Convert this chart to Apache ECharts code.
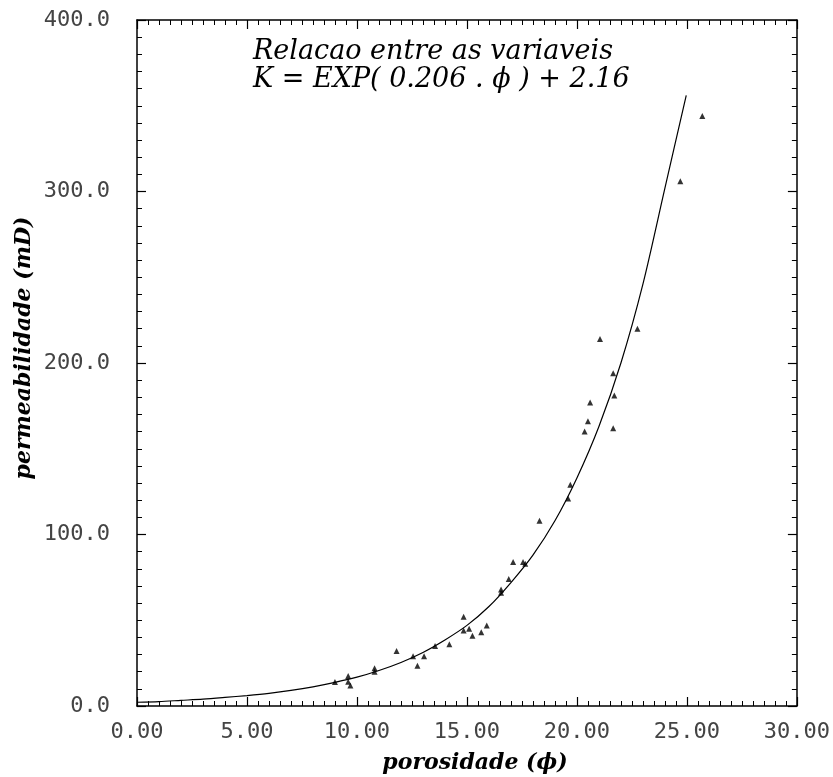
<!DOCTYPE html>
<html>
<head>
<meta charset="utf-8">
<script src="https://cdn.jsdelivr.net/npm/echarts@6/dist/echarts.min.js"></script>
<style>
  html, body { margin: 0; padding: 0; background: #fff; }
  #chart { width: 833px; height: 777px; }
</style>
</head>
<body>
<div id="chart"></div>
<script>
// Measured samples: porosity (%) and permeability (mD)
const porosity = [9.0, 9.6, 9.6, 9.7, 10.8, 10.8, 11.8, 12.55, 12.75, 13.05, 13.55, 14.2,
  14.85, 14.85, 15.1, 15.25, 15.65, 15.9, 16.55, 16.55, 16.9, 17.1, 17.55, 17.65, 18.3,
  19.6, 19.7, 20.35, 20.5, 20.6, 21.05, 21.65, 21.65, 21.7, 22.75, 24.7, 25.7];
const permeability = [14, 17.5, 14.2, 12, 22, 20, 32, 29, 23.5, 29, 35, 36,
  52, 44, 45, 41, 43, 47, 68, 66, 74, 84, 84, 83, 108,
  121, 129, 160, 166, 177, 214, 162, 194, 181, 220, 306, 344];

// Fitted relation, sampled along porosity
const curvePhi = [0, 1, 2, 3, 4, 5, 6, 7, 8, 9, 10, 11, 12, 13, 14, 15, 16, 17, 18, 19, 20, 21, 22, 23, 24, 24.97];
const curveK = [2.2, 2.6, 3.3, 4.0, 5.0, 6.1, 7.4, 9.1, 11.2, 13.8, 16.8, 20.7, 25.4, 31.2, 38.5, 47, 58, 72, 88, 108, 133, 163, 200, 246, 302, 356];

// Axis ticks
const xTicks = [0, 5, 10, 15, 20, 25, 30];
const yTicks = [0, 100, 200, 300, 400];

const titleText = 'Relacao entre as variaveis';
const formulaText = 'K = EXP( 0.206 . \u03D5 ) + 2.16';
const xName = 'porosidade (\u03D5)';
const yName = 'permeabilidade (mD)';

const chart = echarts.init(document.getElementById('chart'), null, { renderer: 'canvas' });

const lineCol = '#000';
const tickFont = { fontFamily: 'DejaVu Sans Mono', fontSize: 22, color: '#444', fontWeight: 'normal' };

function axisBase(extra) {
  return Object.assign({
    type: 'value',
    axisLine: { show: true, onZero: false, lineStyle: { color: lineCol, width: 1.5 } },
    axisTick: { show: true, inside: true, length: 9, lineStyle: { color: lineCol, width: 1.2 } },
    minorTick: { show: true, splitNumber: 10, length: 5, lineStyle: { color: lineCol, width: 1 } },
    splitLine: { show: false },
    minorSplitLine: { show: false }
  }, extra);
}

const xMin = xTicks[0], xMax = xTicks[xTicks.length - 1], xStep = xTicks[1] - xTicks[0];
const yMin = yTicks[0], yMax = yTicks[yTicks.length - 1], yStep = yTicks[1] - yTicks[0];

chart.setOption({
  animation: false,
  backgroundColor: '#fff',
  grid: { left: 137, right: 28, top: 20, bottom: 71 },
  xAxis: [
    axisBase({
      position: 'bottom', min: xMin, max: xMax, interval: xStep,
      axisLabel: Object.assign({ margin: 15, formatter: v => v.toFixed(2) }, tickFont)
    }),
    axisBase({
      position: 'top', min: xMin, max: xMax, interval: xStep,
      axisLabel: { show: false }
    })
  ],
  yAxis: [
    axisBase({
      position: 'left', min: yMin, max: yMax, interval: yStep,
      axisLabel: Object.assign({ margin: 27, formatter: v => v.toFixed(1) }, tickFont)
    }),
    axisBase({
      position: 'right', min: yMin, max: yMax, interval: yStep,
      axisLabel: { show: false }
    })
  ],
  series: [
    {
      type: 'line',
      xAxisIndex: 0, yAxisIndex: 0,
      data: curvePhi.map((p, i) => [p, curveK[i]]),
      smooth: 0.3,
      showSymbol: false,
      symbol: 'none',
      lineStyle: { color: '#000', width: 1.2 },
      z: 3
    },
    {
      type: 'scatter',
      xAxisIndex: 0, yAxisIndex: 0,
      data: porosity.map((p, i) => [p, permeability[i]]),
      symbol: 'triangle',
      symbolSize: 6,
      itemStyle: { color: '#000' },
      z: 4
    }
  ],
  graphic: [
    {
      type: 'text', left: 253, top: 38,
      style: { text: titleText, font: 'italic 27px "DejaVu Serif"', fill: '#000' }
    },
    {
      type: 'text', left: 253, top: 66,
      style: { text: formulaText, font: 'italic 27px "DejaVu Serif"', fill: '#000' }
    },
    {
      type: 'text', x: 475, y: 763,
      style: { text: xName, font: 'italic bold 22px "DejaVu Serif"', fill: '#000', align: 'center', verticalAlign: 'middle' }
    },
    {
      type: 'text', x: 24, y: 348, rotation: Math.PI / 2,
      style: { text: yName, font: 'italic bold 22px "DejaVu Serif"', fill: '#000', align: 'center', verticalAlign: 'middle' }
    }
  ]
});
</script>
</body>
</html>
